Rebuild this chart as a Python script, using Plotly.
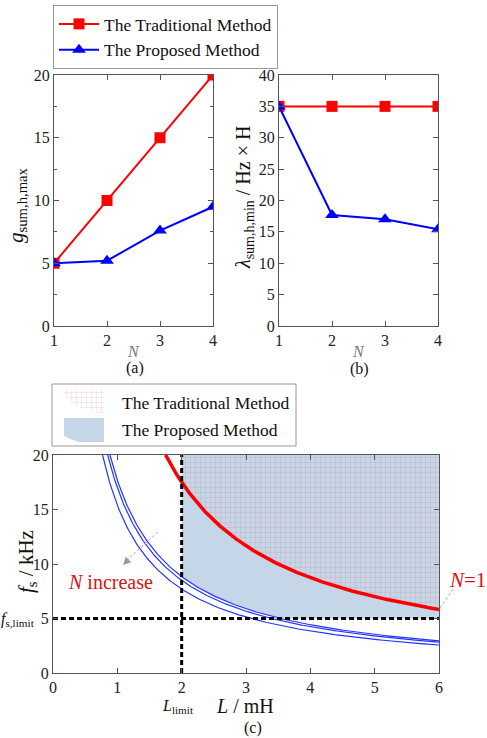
import numpy as np
import plotly.graph_objects as go

# ---- data -------------------------------------------------------------
N = [1, 2, 3, 4]
g_traditional = [5, 10, 15, 20]
g_proposed = [5, 5.2, 7.6, 9.5]
lam_traditional = [35, 35, 35, 35]
lam_proposed = [35, 17.7, 17.0, 15.4]
L_limit = 2.0          # mH
fs_limit = 5.0         # kHz
L_max = 6.0
fs_max = 20.0

W, H = 487, 738
FONT = "Liberation Serif"
RED = "#ff0000"
BLUE = "#0000ff"
AXC = "#555555"
FILL_BLUE = "rgb(196,214,231)"
GRID_PATTERN = dict(shape="+", size=5, solidity=0.12, fgcolor="rgba(225,70,80,0.75)",
                    bgcolor="rgba(0,0,0,0)")


def px(x):
    return x / W


def py(y):
    return 1 - y / H


fig = go.Figure()

# ---- (a) g_sum,h,max vs N --------------------------------------------
fig.add_trace(go.Scatter(x=N, y=g_traditional, mode="lines+markers", name="The Traditional Method",
                         line=dict(color=RED, width=2), marker=dict(symbol="square", size=11, color=RED),
                         xaxis="x", yaxis="y", legend="legend"))
fig.add_trace(go.Scatter(x=N, y=g_proposed, mode="lines+markers", name="The Proposed Method",
                         line=dict(color=BLUE, width=2), marker=dict(symbol="triangle-up", size=12, color=BLUE),
                         xaxis="x", yaxis="y", legend="legend"))

# ---- (b) lambda_sum,h,min vs N ---------------------------------------
fig.add_trace(go.Scatter(x=N, y=lam_traditional, mode="lines+markers", showlegend=False,
                         line=dict(color=RED, width=2), marker=dict(symbol="square", size=11, color=RED),
                         xaxis="x2", yaxis="y2"))
fig.add_trace(go.Scatter(x=N, y=lam_proposed, mode="lines+markers", showlegend=False,
                         line=dict(color=BLUE, width=2), marker=dict(symbol="triangle-up", size=12, color=BLUE),
                         xaxis="x2", yaxis="y2"))

# ---- (c) feasible regions in the L - f_s plane ------------------------
# boundary curves: f_s = lambda / L  (kHz * mH = Hz * H)
lam_n1 = lam_traditional[0]
lam_best = max(lam_proposed[1:])

Lr = np.linspace(L_limit, L_max, 200)
lower_prop = np.maximum(fs_limit, lam_best / Lr)
lower_trad = lam_n1 / Lr
prop_x = np.concatenate([Lr, Lr[::-1]])
prop_y = np.concatenate([lower_prop, np.full_like(Lr, fs_max)])
trad_x = np.concatenate([Lr, Lr[::-1]])
trad_y = np.concatenate([lower_trad, np.full_like(Lr, fs_max)])

fig.add_trace(go.Scatter(x=prop_x, y=prop_y, fill="toself", mode="lines", line=dict(width=0),
                         fillcolor=FILL_BLUE, showlegend=False, hoverinfo="skip",
                         xaxis="x3", yaxis="y3"))
fig.add_trace(go.Scatter(x=trad_x, y=trad_y, fill="toself", mode="lines", line=dict(width=0),
                         fillcolor="rgba(0,0,0,0)", fillpattern=GRID_PATTERN, showlegend=False,
                         hoverinfo="skip", xaxis="x3", yaxis="y3"))

# blue curves for N = 2, 3, 4
for lam in lam_proposed[1:]:
    Lc = np.linspace(lam / fs_max, L_max, 300)
    fig.add_trace(go.Scatter(x=Lc, y=lam / Lc, mode="lines", showlegend=False,
                             line=dict(color="#2233ff", width=1.2), xaxis="x3", yaxis="y3"))

# red curve for N = 1
Lc = np.linspace(lam_n1 / fs_max, L_max, 300)
fig.add_trace(go.Scatter(x=Lc, y=lam_n1 / Lc, mode="lines", showlegend=False,
                         line=dict(color=RED, width=3.5), xaxis="x3", yaxis="y3"))

# limit lines
fig.add_trace(go.Scatter(x=[L_limit, L_limit], y=[0, fs_max], mode="lines", showlegend=False,
                         line=dict(color="black", width=3, dash="5px,3px"), xaxis="x3", yaxis="y3"))
fig.add_trace(go.Scatter(x=[0, L_max], y=[fs_limit, fs_limit], mode="lines", showlegend=False,
                         line=dict(color="black", width=3, dash="5px,3px"), xaxis="x3", yaxis="y3"))

# key symbols for the region legend: miniature copies of the two regions
fig.add_trace(go.Scatter(x=trad_x, y=trad_y, fill="toself", mode="lines", line=dict(width=0),
                         fillcolor="rgba(0,0,0,0)", fillpattern=GRID_PATTERN, showlegend=False,
                         hoverinfo="skip", xaxis="x4", yaxis="y4"))
fig.add_trace(go.Scatter(x=prop_x, y=prop_y, fill="toself", mode="lines", line=dict(width=0),
                         fillcolor=FILL_BLUE, showlegend=False, hoverinfo="skip",
                         xaxis="x5", yaxis="y5"))

# ---- axes -------------------------------------------------------------
axis_common = dict(showline=True, linecolor=AXC, linewidth=1.3, mirror="ticks", ticks="inside",
                   tickcolor=AXC, ticklen=5, showgrid=False, zeroline=False, automargin=False,
                   tickfont=dict(family=FONT, size=16, color="#222"))
hidden = dict(visible=False, showgrid=False, zeroline=False, automargin=False, fixedrange=True)

layout = dict(
    width=W, height=H, autosize=False, margin=dict(l=0, r=0, t=0, b=0, pad=0),
    paper_bgcolor="white", plot_bgcolor="rgba(0,0,0,0)",
    font=dict(family=FONT, color="#111"),
    xaxis=dict(domain=[px(54), px(213)], range=[1, 4], dtick=1, anchor="y", **axis_common),
    yaxis=dict(domain=[py(326), py(75)], range=[0, 20], dtick=5, anchor="x",
               minor=dict(dtick=2.5, ticks="inside", ticklen=3, tickcolor=AXC), **axis_common),
    xaxis2=dict(domain=[px(279), px(438)], range=[1, 4], dtick=1, anchor="y2", **axis_common),
    yaxis2=dict(domain=[py(326), py(75)], range=[0, 40], dtick=5, anchor="x2", **axis_common),
    xaxis3=dict(domain=[px(53), px(439)], range=[0, 6], dtick=1, anchor="y3", **axis_common),
    yaxis3=dict(domain=[py(673), py(455)], range=[0, 20], dtick=5, anchor="x3", **axis_common),
    xaxis4=dict(domain=[px(64), px(104)], range=[L_limit, L_max], anchor="y4", **hidden),
    yaxis4=dict(domain=[py(414), py(390)], range=[lam_n1 / L_max, fs_max], anchor="x4", **hidden),
    xaxis5=dict(domain=[px(64), px(104)], range=[L_limit, L_max], anchor="y5", **hidden),
    yaxis5=dict(domain=[py(442), py(418)], range=[fs_limit, fs_max], anchor="x5", **hidden),
    legend=dict(x=px(53), y=py(5), xanchor="left", yanchor="top", bgcolor="white",
                bordercolor="#999", borderwidth=1, itemwidth=40,
                font=dict(family=FONT, size=17.5, color="#111"), tracegroupgap=0),
)
fig.update_layout(**layout)

# frame of the region legend
fig.add_shape(type="rect", xref="paper", yref="paper", x0=px(52), x1=px(296), y0=py(446), y1=py(384),
              line=dict(color="#999", width=1), fillcolor="white", layer="below")


# ---- labels -----------------------------------------------------------
def label(x, y, text, size=15, color="#111", angle=0, xanchor="center", yanchor="middle"):
    fig.add_annotation(x=px(x), y=py(y), xref="paper", yref="paper", text=text, showarrow=False,
                       textangle=angle, xanchor=xanchor, yanchor=yanchor,
                       font=dict(family=FONT, size=size, color=color))


label(120, 403, "The Traditional Method", size=17.5, xanchor="left")
label(120, 430, "The Proposed Method", size=17.5, xanchor="left")

label(17, 205, "<i>g</i><sub>sum,h,max</sub>", size=21, angle=-90)
label(133, 352, "<i>N</i>", size=16, color="#777")
label(135, 368, "(a)", size=16)

label(244, 198, "<i>λ</i><sub>sum,h,min</sub> / Hz × H", size=20, angle=-90)
label(358, 352, "<i>N</i>", size=16, color="#777")
label(359, 369, "(b)", size=16)

label(27, 562, "<i>f</i><sub>s</sub> / kHz", size=21, angle=-90)
label(37, 619, "<i>f</i><sub>s,limit</sub>", size=16, xanchor="right")
label(178, 706, "<i>L</i><sub>limit</sub>", size=16)
label(245, 706, "<i>L</i> / mH", size=20)
label(253, 728, "(c)", size=16)
label(110, 582, "<i>N</i> increase", size=20, color="#dd1111")
label(467, 580, "<i>N</i>=1", size=21, color="#dd1111")

# leader lines
fig.add_shape(type="line", xref="paper", yref="paper", x0=px(158), y0=py(532), x1=px(128), y1=py(559),
              line=dict(color="#aaaaaa", width=1, dash="3px,2px"))
fig.add_annotation(x=px(123), y=py(565), xref="paper", yref="paper", ax=7, ay=-7, text="",
                   showarrow=True, arrowhead=2, arrowsize=1.3, arrowwidth=1.2, arrowcolor="#999999")
fig.add_shape(type="line", xref="paper", yref="paper", x0=px(440), y0=py(608), x1=px(454), y1=py(588),
              line=dict(color="#aaaaaa", width=1, dash="3px,2px"))

fig.write_html("out.html")
